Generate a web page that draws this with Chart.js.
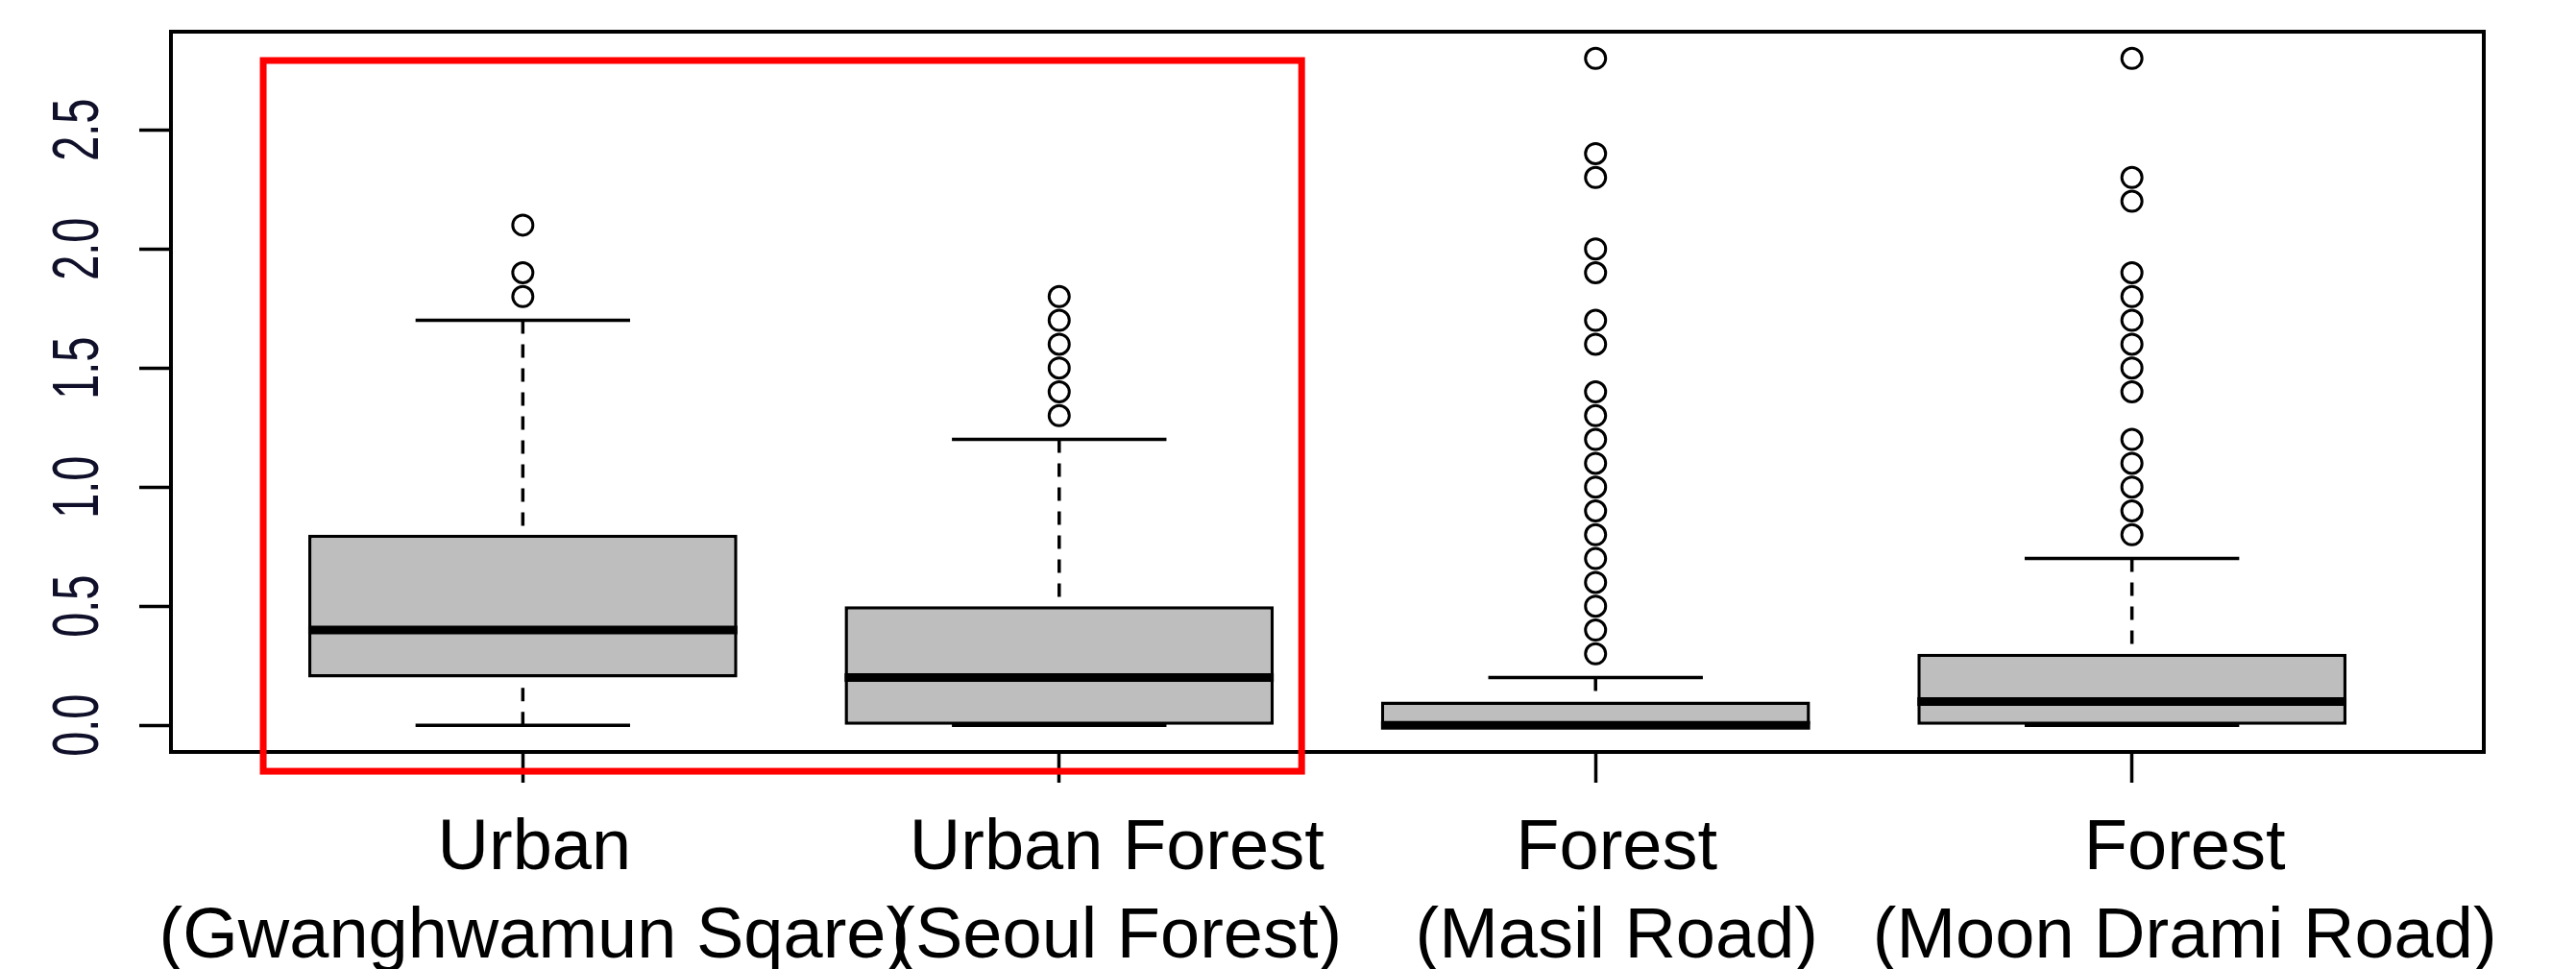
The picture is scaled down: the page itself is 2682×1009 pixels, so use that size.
<!DOCTYPE html>
<html>
<head>
<meta charset="utf-8">
<script src="https://cdn.jsdelivr.net/npm/chart.js@4.4.1/dist/chart.umd.min.js"></script>
<style>
    html, body { margin: 0; padding: 0; background: #fff; }
    canvas { display: block; }
</style>
</head>
<body>
<canvas id="boxChart" width="2682" height="1009"></canvas>
<script>
/* -------------------- DATA -------------------- */
const categories = [
    ["Urban", "(Gwanghwamun Sqare)"],
    ["Urban Forest", "(Seoul Forest)"],
    ["Forest", "(Masil Road)"],
    ["Forest", "(Moon Drami Road)"]
];

const whiskerLow  = [0.0, 0.0, 0.0, 0.0];
const q1          = [0.2, 0.0, 0.0, 0.0];
const median      = [0.4, 0.2, 0.0, 0.1];
const q3          = [0.8, 0.5, 0.1, 0.3];
const whiskerHigh = [1.7, 1.2, 0.2, 0.7];

const outliersUrban  = [1.8, 1.9, 2.1];
const outliersSeoul  = [1.3, 1.4, 1.5, 1.6, 1.7, 1.8];
const outliersMasil  = [0.3, 0.4, 0.5, 0.6, 0.7, 0.8, 0.9, 1.0, 1.1, 1.2, 1.3, 1.4, 1.6, 1.7, 1.9, 2.0, 2.3, 2.4, 2.8];
const outliersMoon   = [0.8, 0.9, 1.0, 1.1, 1.2, 1.4, 1.5, 1.6, 1.7, 1.8, 1.9, 2.2, 2.3, 2.8];
const outliers = [outliersUrban, outliersSeoul, outliersMasil, outliersMoon];

const xTicks = [1, 2, 3, 4];
const yTicks = [0, 0.5, 1.0, 1.5, 2.0, 2.5];

// red highlight around the two urban groups (data units)
const highlightX = [0.516, 2.452];
const highlightY = [-0.193, 2.791];

/* -------------------- STYLE -------------------- */
const BOX_HALF = 0.4;
const CAP_HALF = 0.2;
const LINE_W = 3.5;
const labelNudge = [12, 60, 22, 55];   // R drew these labels a bit right of the ticks

/* -------------------- BUILD DATASETS -------------------- */
const gap = (x) => ({ x: x, y: null });

const boxData = categories.map((c, i) => ({ x: i + 1, y: [q1[i], q3[i]] }));

const whiskerData = [];
const capData = [];
const medianData = [];
categories.forEach((c, i) => {
    const x = i + 1;
    whiskerData.push({ x: x, y: whiskerHigh[i] }, { x: x, y: q3[i] }, gap(x));
    whiskerData.push({ x: x, y: whiskerLow[i] }, { x: x, y: q1[i] }, gap(x));

    capData.push({ x: x - CAP_HALF, y: whiskerHigh[i] }, { x: x + CAP_HALF, y: whiskerHigh[i] }, gap(x));
    capData.push({ x: x - CAP_HALF, y: whiskerLow[i] }, { x: x + CAP_HALF, y: whiskerLow[i] }, gap(x));

    medianData.push({ x: x - BOX_HALF, y: median[i] }, { x: x + BOX_HALF, y: median[i] }, gap(x));
});

const outlierData = [];
outliers.forEach((list, i) => {
    list.forEach(v => outlierData.push({ x: i + 1, y: v }));
});

/* -------------------- DECORATION PLUGIN -------------------- */
const decor = {
    id: "decor",
    afterDraw(chart) {
        const { ctx, chartArea: a, scales: { x, y } } = chart;
        ctx.save();

        // plot frame
        ctx.strokeStyle = "#000";
        ctx.lineWidth = 4;
        ctx.strokeRect(a.left, a.top, a.right - a.left, a.bottom - a.top);

        // y tick labels, rotated like R (las = 0)
        ctx.fillStyle = "#10102a";
        ctx.font = '68px "Liberation Sans", Arial, sans-serif';
        ctx.textAlign = "center";
        ctx.textBaseline = "alphabetic";
        yTicks.forEach(v => {
            ctx.save();
            ctx.translate(a.left - 76, y.getPixelForValue(v));
            ctx.rotate(-Math.PI / 2);
            ctx.scale(0.69, 1);
            ctx.fillText(v.toFixed(1), 0, 0);
            ctx.restore();
        });

        // category labels, two lines each
        ctx.fillStyle = "#000";
        ctx.font = '74px "Liberation Sans", Arial, sans-serif';
        categories.forEach((lines, i) => {
            const px = x.getPixelForValue(xTicks[i]) + labelNudge[i];
            lines.forEach((t, j) => ctx.fillText(t, px, a.bottom + 122 + j * 92));
        });

        // red highlight box
        const x0 = x.getPixelForValue(highlightX[0]);
        const x1 = x.getPixelForValue(highlightX[1]);
        const y0 = y.getPixelForValue(highlightY[1]);
        const y1 = y.getPixelForValue(highlightY[0]);
        ctx.strokeStyle = "#ff0000";
        ctx.lineWidth = 7;
        ctx.strokeRect(x0, y0, x1 - x0, y1 - y0);

        ctx.restore();
    }
};

/* -------------------- CHART -------------------- */
new Chart(document.getElementById("boxChart"), {
    type: "bar",
    data: {
        datasets: [
            {
                type: "line",
                data: medianData,
                borderColor: "#000",
                borderWidth: 9,
                pointRadius: 0,
                spanGaps: false,
                order: 0
            },
            {
                type: "line",
                data: capData,
                borderColor: "#000",
                borderWidth: LINE_W,
                pointRadius: 0,
                spanGaps: false,
                order: 1
            },
            {
                type: "scatter",
                data: outlierData,
                pointStyle: "circle",
                pointRadius: 10.5,
                pointBorderWidth: 3,
                borderColor: "#000",
                backgroundColor: "rgba(0,0,0,0)",
                order: 1
            },
            {
                type: "line",
                data: whiskerData,
                borderColor: "#000",
                borderWidth: LINE_W,
                borderDash: [14, 11],
                pointRadius: 0,
                spanGaps: false,
                order: 2
            },
            {
                type: "bar",
                data: boxData,
                backgroundColor: "#bebebe",
                borderColor: "#000",
                borderWidth: LINE_W,
                borderSkipped: false,
                barPercentage: 0.8,
                categoryPercentage: 1.0,
                order: 3
            }
        ]
    },
    options: {
        responsive: false,
        animation: false,
        devicePixelRatio: 1,
        layout: { padding: { top: 33, right: 96, bottom: 0, left: 0 } },
        plugins: {
            legend: { display: false },
            tooltip: { enabled: false }
        },
        scales: {
            x: {
                type: "linear",
                min: 0.344,
                max: 4.656,
                offset: false,
                afterBuildTicks: (scale) => { scale.ticks = xTicks.map(v => ({ value: v })); },
                afterFit: (scale) => { scale.height = 226; },
                ticks: { display: false },
                border: { display: false },
                grid: {
                    offset: false,
                    drawOnChartArea: false,
                    drawTicks: true,
                    tickLength: 32,
                    tickWidth: LINE_W,
                    tickColor: "#000"
                }
            },
            y: {
                type: "linear",
                min: -0.112,
                max: 2.912,
                afterBuildTicks: (scale) => { scale.ticks = yTicks.map(v => ({ value: v })); },
                afterFit: (scale) => { scale.width = 178; },
                ticks: { display: false },
                border: { display: false },
                grid: {
                    drawOnChartArea: false,
                    drawTicks: true,
                    tickLength: 33,
                    tickWidth: LINE_W,
                    tickColor: "#000"
                }
            }
        }
    },
    plugins: [decor]
});
</script>
</body>
</html>
